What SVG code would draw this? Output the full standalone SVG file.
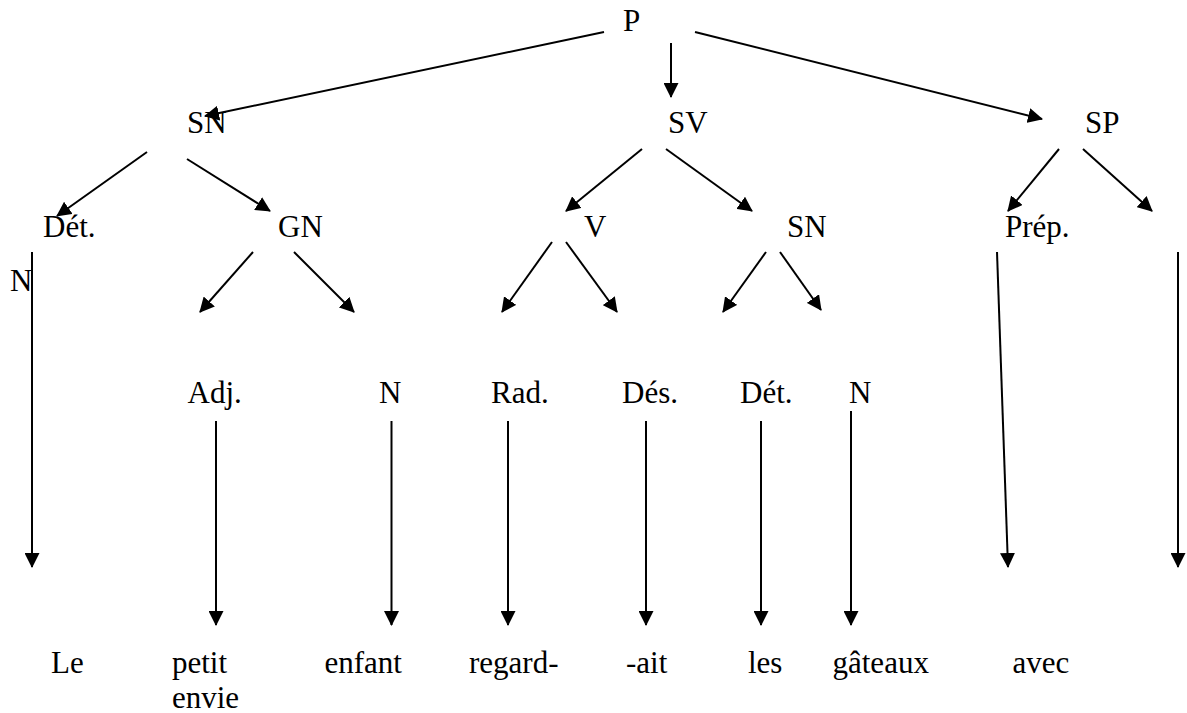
<svg xmlns="http://www.w3.org/2000/svg" width="1187" height="713" viewBox="0 0 1187 713">
<style>
text{font-family:"Liberation Serif","Times New Roman",serif;font-size:31px;fill:#000}
.c line{stroke:#000;stroke-width:2;marker-end:url(#ah)}
</style>
<defs>
<marker id="ah" viewBox="0 0 15 15" refX="14" refY="7.5" markerWidth="15" markerHeight="15" markerUnits="userSpaceOnUse" orient="auto">
<path d="M0,0 L15,7.5 L0,15 z" fill="#000"/>
</marker>
</defs>
<rect width="1187" height="713" fill="#fff"/>
<g class="c" id="connectors">
<line x1="604" y1="32" x2="205" y2="116"/>
<line x1="671" y1="43" x2="671" y2="97"/>
<line x1="695" y1="32" x2="1042" y2="119"/>
<line x1="147" y1="152" x2="57" y2="216"/>
<line x1="187" y1="159" x2="270" y2="211"/>
<line x1="642" y1="149" x2="566" y2="211"/>
<line x1="666" y1="149" x2="752" y2="211"/>
<line x1="1059" y1="149" x2="1008" y2="211"/>
<line x1="1083" y1="149" x2="1152" y2="211"/>
<line x1="253" y1="252" x2="200" y2="312"/>
<line x1="294" y1="252" x2="354" y2="312"/>
<line x1="552" y1="242" x2="502" y2="312"/>
<line x1="566" y1="242" x2="617" y2="312"/>
<line x1="766" y1="252" x2="723" y2="312"/>
<line x1="780" y1="252" x2="821" y2="310"/>
<line x1="32" y1="252" x2="32" y2="567"/>
<line x1="997" y1="252" x2="1008" y2="567"/>
<line x1="1178" y1="252" x2="1178" y2="567"/>
<line x1="216" y1="421" x2="216" y2="625"/>
<line x1="391.5" y1="421" x2="391.5" y2="625"/>
<line x1="508" y1="421" x2="508" y2="625"/>
<line x1="646" y1="421" x2="646" y2="625"/>
<line x1="761" y1="421" x2="761" y2="625"/>
<line x1="851" y1="411" x2="851" y2="625"/>
</g>
<g id="n-P"><text x="623" y="31">P</text></g>
<g id="n-SN1"><text x="187" y="133">SN</text></g>
<g id="n-SV"><text x="668" y="133">SV</text></g>
<g id="n-SP"><text x="1085" y="133">SP</text></g>
<g id="n-Det1"><text x="43" y="237">Dét.</text></g>
<g id="n-GN"><text x="278" y="237">GN</text></g>
<g id="n-V"><text x="584" y="237">V</text></g>
<g id="n-SN2"><text x="787" y="237">SN</text></g>
<g id="n-Prep"><text x="1005" y="237">Prép.</text></g>
<g id="n-N0"><text x="10" y="291">N</text></g>
<g id="n-Adj"><text x="187.5" y="403">Adj.</text></g>
<g id="n-N1"><text x="379" y="403">N</text></g>
<g id="n-Rad"><text x="491" y="403">Rad.</text></g>
<g id="n-Des"><text x="622" y="403">Dés.</text></g>
<g id="n-Det2"><text x="740" y="403">Dét.</text></g>
<g id="n-N2"><text x="849" y="403">N</text></g>
<g id="w-Le"><text x="51" y="673">Le</text></g>
<g id="w-petit"><text x="172" y="673">petit</text><text x="172" y="708">envie</text></g>
<g id="w-enfant"><text x="324.5" y="673">enfant</text></g>
<g id="w-regard"><text x="469" y="673">regard-</text></g>
<g id="w-ait"><text x="626" y="673">-ait</text></g>
<g id="w-les"><text x="748" y="673">les</text></g>
<g id="w-gateaux"><text x="832.5" y="673">gâteaux</text></g>
<g id="w-avec"><text x="1012.6" y="673">avec</text></g>
</svg>
